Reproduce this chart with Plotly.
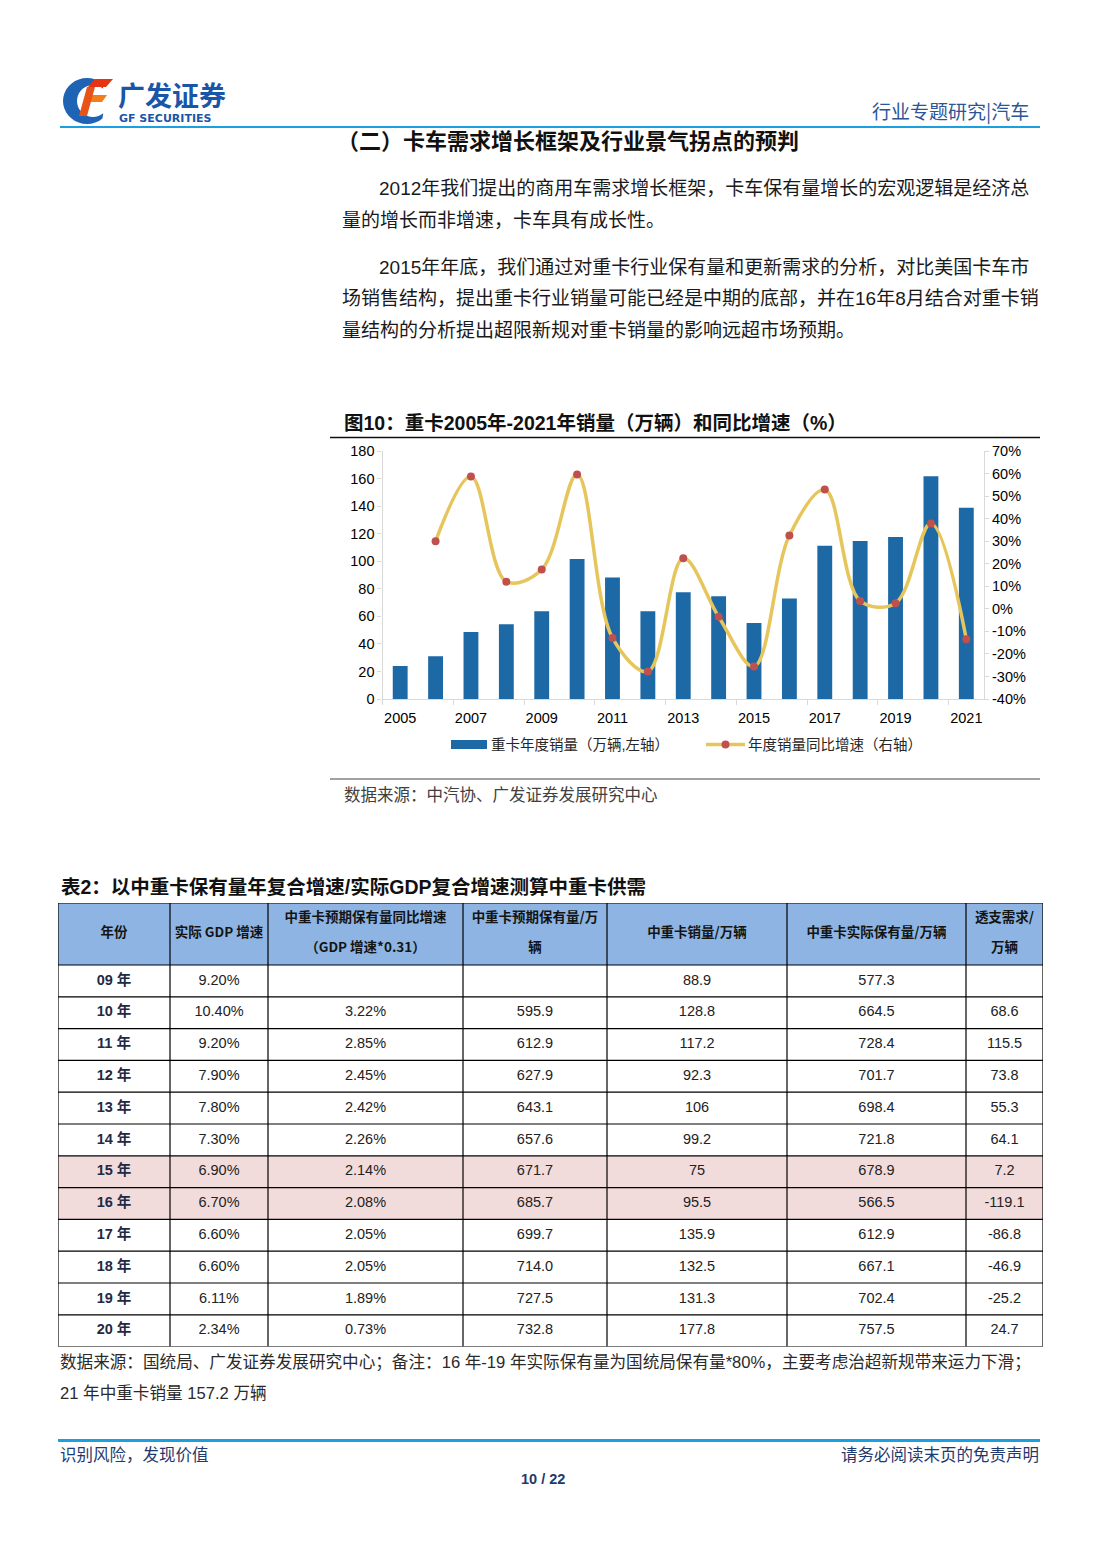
import math
import plotly.graph_objects as go

W, H = 1102, 1559

# ---------------- data ----------------
years = list(range(2005, 2022))
sales = [23.9, 31.0, 48.7, 54.2, 63.6, 101.7, 88.2, 63.6, 77.4, 74.5, 55.2, 73.0, 111.3, 114.7, 117.6, 161.6, 138.8]
growth_years = list(range(2006, 2022))
growth = [30.0, 58.7, 12.0, 17.4, 59.6, -12.9, -27.8, 22.4, -3.5, -25.6, 32.5, 52.9, 3.5, 2.5, 37.8, -13.5]
x_tick_labels = [str(y) for y in range(2005, 2022, 2)]
y_left_ticks = [0, 20, 40, 60, 80, 100, 120, 140, 160, 180]
y_right_ticks = [-40, -30, -20, -10, 0, 10, 20, 30, 40, 50, 60, 70]
y_right_labels = ["-40%", "-30%", "-20%", "-10%", "0%", "10%", "20%", "30%", "40%", "50%", "60%", "70%"]

tbl_header = [["年份"], ["实际 GDP 增速"], ["中重卡预期保有量同比增速", "（GDP 增速*0.31）"],
              ["中重卡预期保有量/万", "辆"], ["中重卡销量/万辆"], ["中重卡实际保有量/万辆"], ["透支需求/", "万辆"]]
tbl_year = ["09 年", "10 年", "11 年", "12 年", "13 年", "14 年", "15 年", "16 年", "17 年", "18 年", "19 年", "20 年"]
tbl_gdp = ["9.20%", "10.40%", "9.20%", "7.90%", "7.80%", "7.30%", "6.90%", "6.70%", "6.60%", "6.60%", "6.11%", "2.34%"]
tbl_exp_g = ["", "3.22%", "2.85%", "2.45%", "2.42%", "2.26%", "2.14%", "2.08%", "2.05%", "2.05%", "1.89%", "0.73%"]
tbl_exp_stock = ["", "595.9", "612.9", "627.9", "643.1", "657.6", "671.7", "685.7", "699.7", "714.0", "727.5", "732.8"]
tbl_sales = ["88.9", "128.8", "117.2", "92.3", "106", "99.2", "75", "95.5", "135.9", "132.5", "131.3", "177.8"]
tbl_act_stock = ["577.3", "664.5", "728.4", "701.7", "698.4", "721.8", "678.9", "566.5", "612.9", "667.1", "702.4", "757.5"]
tbl_over = ["", "68.6", "115.5", "73.8", "55.3", "64.1", "7.2", "-119.1", "-86.8", "-46.9", "-25.2", "24.7"]
highlight_rows = [6, 7]

# ---------------- helpers (page pixel -> paper fraction) ----------------
TOP, PH = 8.0, 1543.0   # effective drawing box observed in the viewer

def X(x):
    return x / W

def Y(y):
    return 1 - (y - TOP) / PH

FONT = "Liberation Sans, Noto Sans CJK SC, sans-serif"

fig = go.Figure()

# ---------------- chart ----------------
fig.add_trace(go.Bar(
    x=years, y=sales, width=0.42, marker=dict(color="#1D69A6", line=dict(width=0)),
    name="重卡年度销量（万辆,左轴）", xaxis="x", yaxis="y", showlegend=False, hoverinfo="skip",
))
fig.add_trace(go.Scatter(
    x=growth_years, y=growth, mode="lines+markers",
    line=dict(color="#E6C65C", width=3.5, shape="spline", smoothing=1.0),
    marker=dict(color="#C0504D", size=8),
    name="年度销量同比增速（右轴）", xaxis="x", yaxis="y2", showlegend=False, cliponaxis=False,
))

# ---------------- table (heatmap grid + text) ----------------
col_w = [112, 98, 195, 144, 180, 179, 77]
head_h, row_h = 62, 31.8
nrows = len(tbl_year)
x_edges = [0]
for w in col_w:
    x_edges.append(x_edges[-1] + w)
y_edges = [0, head_h] + [head_h + row_h * (i + 1) for i in range(nrows)]
tbl_w, tbl_h = x_edges[-1], y_edges[-1]
z = [[2] * len(col_w)] + [[1 if i in highlight_rows else 0] * len(col_w) for i in range(nrows)]
fig.add_trace(go.Heatmap(
    x=x_edges, y=y_edges, z=z, zmin=0, zmax=2, showscale=False, hoverinfo="skip",
    colorscale=[[0, "#FFFFFF"], [0.5, "#F2DCDB"], [1, "#8DB4E2"]],
    xaxis="x2", yaxis="y3",
))
x_cent = [(x_edges[i] + x_edges[i + 1]) / 2 for i in range(len(col_w))]
hx, hy, ht = [], [], []
for j, lines in enumerate(tbl_header):
    ys = [head_h / 2] if len(lines) == 1 else [head_h / 2 - 15, head_h / 2 + 15]
    for ln, yy in zip(lines, ys):
        hx.append(x_cent[j]); hy.append(yy); ht.append("<b>%s</b>" % ln)
fig.add_trace(go.Scatter(
    x=hx, y=hy, text=ht, mode="text", textposition="middle center",
    textfont=dict(family="Liberation Sans Narrow, Noto Sans CJK SC", size=13.5, color="#141414"),
    xaxis="x2", yaxis="y3", showlegend=False, hoverinfo="skip",
))
row_cent = [head_h + row_h * (i + 0.5) for i in range(nrows)]
fig.add_trace(go.Scatter(
    x=[x_cent[0]] * nrows, y=row_cent, text=["<b>%s</b>" % v for v in tbl_year],
    mode="text", textposition="middle center",
    textfont=dict(family=FONT, size=14.5, color="#1F2A44"),
    xaxis="x2", yaxis="y3", showlegend=False, hoverinfo="skip",
))
cx_, cy_, ct_ = [], [], []
for j, col in enumerate([tbl_gdp, tbl_exp_g, tbl_exp_stock, tbl_sales, tbl_act_stock, tbl_over]):
    for i, v in enumerate(col):
        cx_.append(x_cent[j + 1]); cy_.append(row_cent[i]); ct_.append(v)
fig.add_trace(go.Scatter(
    x=cx_, y=cy_, text=ct_, mode="text", textposition="middle center",
    textfont=dict(family=FONT, size=14.5, color="#222222"),
    xaxis="x2", yaxis="y3", showlegend=False, hoverinfo="skip",
))

axis_grey = "#D9D9D9"
tick_font = dict(family="Liberation Sans", size=14.5, color="black")
fig.update_layout(
    width=W, height=H, margin=dict(l=0, r=0, t=0, b=0),
    paper_bgcolor="white", plot_bgcolor="white",
    font=dict(family=FONT, color="#1a1a1a"),
    xaxis=dict(
        domain=[X(382.5), X(984)], range=[2004.5, 2021.5],
        tickmode="array", tickvals=[int(t) for t in x_tick_labels], ticktext=x_tick_labels,
        ticks="outside", ticklen=5, tickcolor="rgba(0,0,0,0)",
        minor=dict(tickmode="array", tickvals=[y + 0.5 for y in range(2004, 2021, 2)],
                   ticks="outside", ticklen=5, tickcolor=axis_grey),
        showline=True, linecolor=axis_grey, linewidth=1.2, showgrid=False, zeroline=False,
        tickfont=tick_font,
    ),
    yaxis=dict(
        domain=[Y(699), Y(451)], range=[0, 180],
        tickmode="array", tickvals=y_left_ticks, ticktext=[str(v) for v in y_left_ticks],
        ticks="outside", ticklen=4, tickcolor=axis_grey,
        showline=True, linecolor=axis_grey, linewidth=1.2, showgrid=False, zeroline=False,
        tickfont=tick_font,
    ),
    yaxis2=dict(
        overlaying="y", side="right", anchor="x", range=[-40, 70],
        tickmode="array", tickvals=y_right_ticks, ticktext=y_right_labels,
        ticks="outside", ticklen=4, tickcolor=axis_grey,
        showline=True, linecolor=axis_grey, linewidth=1.2, showgrid=False, zeroline=False,
        tickfont=tick_font,
    ),
    xaxis2=dict(domain=[X(58), X(58 + tbl_w)], range=[0, tbl_w], anchor="y3", visible=False, fixedrange=True),
    yaxis3=dict(domain=[Y(903 + tbl_h), Y(903)], range=[tbl_h, 0], anchor="x2", visible=False, fixedrange=True),
    bargap=0.6,
)

# ---------------- page decorations ----------------
shapes = []
annots = []

def text(x, y, s, size, color="#1a1a1a", anchor="left", bold=False, family=FONT):
    annots.append(dict(
        x=X(x), y=Y(y), xref="paper", yref="paper", text=("<b>%s</b>" % s) if bold else s,
        showarrow=False, xanchor=anchor, yanchor="middle",
        font=dict(family=family, size=size, color=color),
    ))

def hline(x0, x1, y, color, width):
    shapes.append(dict(type="line", xref="paper", yref="paper", x0=X(x0), x1=X(x1), y0=Y(y), y1=Y(y),
                       line=dict(color=color, width=width)))

def poly(pts, color):
    path = "M " + " L ".join("%f,%f" % (X(a), Y(b)) for a, b in pts) + " Z"
    shapes.append(dict(type="path", xref="paper", yref="paper", path=path,
                       fillcolor=color, line=dict(width=0)))

# table borders
for xe in x_edges:
    shapes.append(dict(type="line", xref="x2", yref="y3", x0=xe, x1=xe, y0=0, y1=tbl_h,
                       line=dict(color="black", width=1.2), layer="above"))
for ye in y_edges:
    shapes.append(dict(type="line", xref="x2", yref="y3", x0=0, x1=tbl_w, y0=ye, y1=ye,
                       line=dict(color="black", width=1.2), layer="above"))

# logo emblem
cx, cy = 87, 101
outer = [(cx + 24 * math.cos(math.radians(a)), cy - 23 * math.sin(math.radians(a))) for a in range(50, 311, 10)]
inner = [(cx + 6 + 16 * math.cos(math.radians(a)), cy - 16 * math.sin(math.radians(a))) for a in range(310, 49, -10)]
poly(outer + inner, "#1F63B4")
poly([(88, 87), (95, 79), (113, 79), (106, 87)], "#E63312")
poly([(86, 102), (91, 95), (107, 95), (102, 102)], "#F07F1B")
poly([(87, 87), (95, 87), (87, 116), (79, 116)], "#E8531A")
text(116, 95, "广发证券", 27, "#1A56A8", bold=True, family="Noto Sans CJK SC")
text(117, 118, "GF SECURITIES", 11, "#1A56A8", bold=True, family="DejaVu Sans")

text(1031, 111, "行业专题研究|汽车", 19, "#2B5597", anchor="right", family="Noto Sans CJK SC")
hline(60, 1040, 127, "#1AA0E0", 2)

# section title and paragraphs
text(335, 142, "（二）卡车需求增长框架及行业景气拐点的预判", 22, "#111111", bold=True)
body = 19
text(377, 189, "2012年我们提出的商用车需求增长框架，卡车保有量增长的宏观逻辑是经济总", body)
text(340, 220, "量的增长而非增速，卡车具有成长性。", body)
text(377, 267, "2015年年底，我们通过对重卡行业保有量和更新需求的分析，对比美国卡车市", body)
text(340, 298, "场销售结构，提出重卡行业销量可能已经是中期的底部，并在16年8月结合对重卡销", body)
text(340, 330, "量结构的分析提出超限新规对重卡销量的影响远超市场预期。", body)

# chart title / rules / source
text(342, 423, "图10：重卡2005年-2021年销量（万辆）和同比增速（%）", 19.5, "#111111", bold=True)
hline(330, 1040, 437.5, "#111111", 1.5)
hline(330, 1040, 779, "#444444", 1)
text(342, 795, "数据来源：中汽协、广发证券发展研究中心", 16.5, "#404040")

# legend
shapes.append(dict(type="rect", xref="paper", yref="paper", x0=X(451), x1=X(487), y0=Y(740), y1=Y(749),
                   fillcolor="#1D69A6", line=dict(width=0)))
text(489, 744.5, "重卡年度销量（万辆,左轴）", 14.5, "#262626")
hline(706, 745, 744.5, "#E6C65C", 3.5)
shapes.append(dict(type="circle", xref="paper", yref="paper", x0=X(721.5), x1=X(729.5), y0=Y(740.5), y1=Y(748.5),
                   fillcolor="#C0504D", line=dict(width=0)))
text(746, 744.5, "年度销量同比增速（右轴）", 14.5, "#262626")

# table title & note
text(59, 887, "表2：以中重卡保有量年复合增速/实际GDP复合增速测算中重卡供需", 19.5, "#111111", bold=True)
text(58, 1362, "数据来源：国统局、广发证券发展研究中心；备注：16 年-19 年实际保有量为国统局保有量*80%，主要考虑治超新规带来运力下滑；", 16.6, "#2a2a2a")
text(58, 1393, "21 年中重卡销量 157.2 万辆", 16.6, "#2a2a2a")

# footer
hline(58, 1040, 1440.5, "#1AA0E0", 3)
text(58, 1454, "识别风险，发现价值", 16.5, "#1F3A6E", family="Noto Sans CJK SC")
text(1041, 1454, "请务必阅读末页的免责声明", 16.5, "#1F3A6E", anchor="right", family="Noto Sans CJK SC")
text(543, 1479, "10 / 22", 14.5, "#1F3A6E", anchor="center", bold=True, family="Liberation Sans Narrow, Liberation Sans")

fig.update_layout(shapes=shapes, annotations=annots)
fig.write_html("out.html", config=dict(displayModeBar=False),
               post_script="document.body.style.margin='0';document.body.style.overflow='hidden';")
